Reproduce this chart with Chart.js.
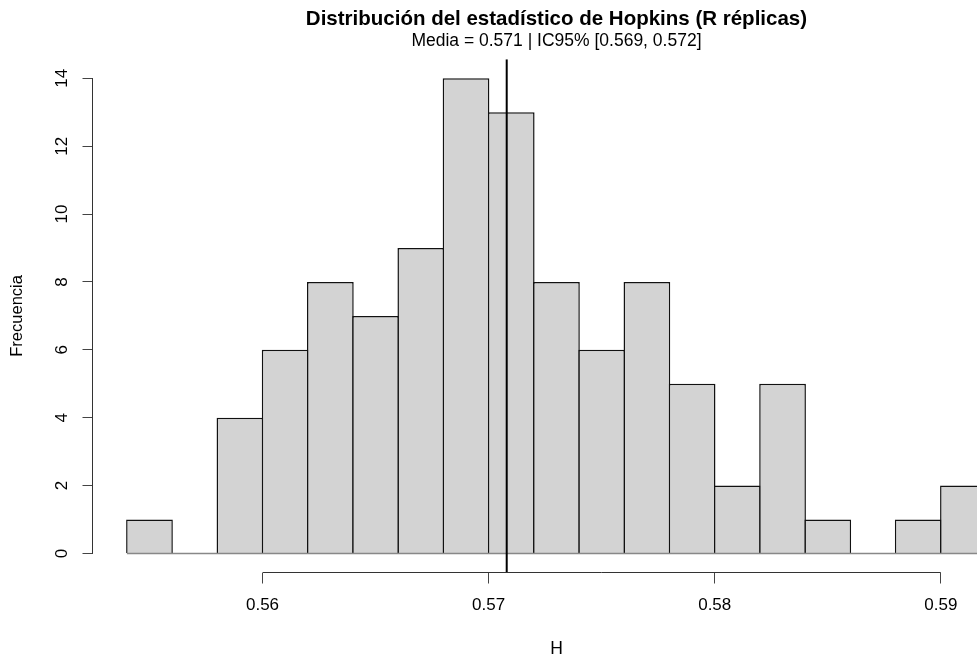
<!DOCTYPE html>
<html>
<head>
<meta charset="utf-8">
<script src="https://cdn.jsdelivr.net/npm/chart.js@4.4.1/dist/chart.umd.min.js"></script>
<style>
  html, body { margin: 0; padding: 0; background: #ffffff; }
  #wrap { width: 977px; height: 658px; }
</style>
</head>
<body>
<div id="wrap"><canvas id="hist" width="977" height="658"></canvas></div>
<script>
// Histogram of the Hopkins statistic over the replicates
const binEdges = [0.554, 0.556, 0.558, 0.560, 0.562, 0.564, 0.566, 0.568, 0.570, 0.572,
                  0.574, 0.576, 0.578, 0.580, 0.582, 0.584, 0.586, 0.588, 0.590, 0.592];
const frequencies = [1, 0, 4, 6, 8, 7, 9, 14, 13, 8, 6, 8, 5, 2, 5, 1, 0, 1, 2];

const meanH = 0.5708;
const ciLow = 0.569;
const ciHigh = 0.572;

const xTickValues = [0.56, 0.57, 0.58, 0.59];
const yTickValues = [0, 2, 4, 6, 8, 10, 12, 14];

const chartTitle = 'Distribución del estadístico de Hopkins (R réplicas)';
const chartSubtitle = 'Media = ' + meanH.toFixed(3) + ' | IC95% [' + ciLow.toFixed(3) + ', ' + ciHigh.toFixed(3) + ']';
const xLabel = 'H';
const yLabel = 'Frecuencia';

// axis ranges: data range widened by 4% on each side
const xRange = binEdges[binEdges.length - 1] - binEdges[0];
const xMin = binEdges[0] - 0.04 * xRange;
const xMax = 0.5916;
const yTop = Math.max(...frequencies);
const yMin = -0.04 * yTop;
const yMax = yTop * 1.04;

const FONT = '"Liberation Sans", Arial, Helvetica, sans-serif';

const barPoints = frequencies.map((f, i) => ({ x: (binEdges[i] + binEdges[i + 1]) / 2, y: f }));

// axis lines that span only the first to the last tick, plus the titles
const axisDecor = {
  id: 'axisDecor',
  afterDraw(chart) {
    const { ctx, chartArea, scales } = chart;
    const xs = scales.x, ys = scales.y;
    ctx.save();
    ctx.strokeStyle = '#333';
    ctx.lineWidth = 1;
    ctx.beginPath();
    ctx.moveTo(xs.getPixelForValue(xTickValues[0]), chartArea.bottom);
    ctx.lineTo(xs.getPixelForValue(xTickValues[xTickValues.length - 1]), chartArea.bottom);
    ctx.moveTo(chartArea.left, ys.getPixelForValue(yTickValues[0]));
    ctx.lineTo(chartArea.left, ys.getPixelForValue(yTickValues[yTickValues.length - 1]));
    ctx.stroke();

    const cx = xs.getPixelForValue((binEdges[0] + binEdges[binEdges.length - 1]) / 2);
    ctx.fillStyle = '#000';
    ctx.textAlign = 'center';
    ctx.textBaseline = 'alphabetic';
    ctx.font = 'bold 20.5px ' + FONT;
    ctx.fillText(chartTitle, cx, 24.5);
    ctx.font = '17.5px ' + FONT;
    ctx.fillText(chartSubtitle, cx, 45.5);
    ctx.font = '17.5px ' + FONT;
    ctx.fillText(xLabel, cx, 653.5);
    ctx.restore();
  }
};

new Chart(document.getElementById('hist'), {
  type: 'bar',
  data: {
    datasets: [
      {
        type: 'line',
        label: 'media',
        data: [{ x: meanH, y: yMin }, { x: meanH, y: yMax }],
        borderColor: '#000000',
        borderWidth: 2,
        pointRadius: 0,
        fill: false,
        order: 0
      },
      {
        type: 'line',
        label: 'base',
        data: [{ x: binEdges[0], y: 0 }, { x: binEdges[binEdges.length - 1], y: 0 }],
        borderColor: '#888888',
        borderWidth: 1.5,
        pointRadius: 0,
        fill: false,
        order: 1
      },
      {
        type: 'bar',
        label: yLabel,
        data: barPoints,
        backgroundColor: '#D3D3D3',
        borderColor: '#111111',
        borderWidth: 1.5,
        borderSkipped: 'start',
        barPercentage: 1.033,
        categoryPercentage: 1,
        order: 2
      }
    ]
  },
  options: {
    responsive: false,
    animation: false,
    devicePixelRatio: 1,
    layout: { padding: { top: 59.3, left: 0, right: 0, bottom: 0 } },
    plugins: {
      legend: { display: false },
      tooltip: { enabled: false },
      title: { display: false }
    },
    scales: {
      x: {
        type: 'linear',
        min: xMin,
        max: xMax,
        offset: false,
        afterFit: s => { s.height = 85.5; },
        afterBuildTicks: s => { s.ticks = xTickValues.map(v => ({ value: v })); },
        border: { display: false },
        grid: { display: true, drawOnChartArea: false, drawTicks: true, tickLength: 11, color: '#444', lineWidth: 1, offset: false },
        ticks: {
          autoSkip: false, maxRotation: 0, minRotation: 0, padding: 11.3,
          color: '#000', font: { family: FONT, size: 17 },
          callback: v => v.toFixed(2)
        }
      },
      y: {
        type: 'linear',
        min: yMin,
        max: yMax,
        afterFit: s => { s.width = 92.5; },
        afterBuildTicks: s => { s.ticks = yTickValues.map(v => ({ value: v })); },
        border: { display: false },
        grid: { display: true, drawOnChartArea: false, drawTicks: true, tickLength: 10, color: '#444', lineWidth: 1 },
        ticks: {
          autoSkip: false, minRotation: 90, maxRotation: 90, crossAlign: 'center', padding: 11,
          color: '#000', font: { family: FONT, size: 17 },
          callback: v => String(v)
        },
        title: {
          display: true, text: yLabel, color: '#000',
          font: { family: FONT, size: 16.5 },
          padding: { top: 8, bottom: 0 }
        }
      }
    }
  },
  plugins: [axisDecor]
});
</script>
</body>
</html>
